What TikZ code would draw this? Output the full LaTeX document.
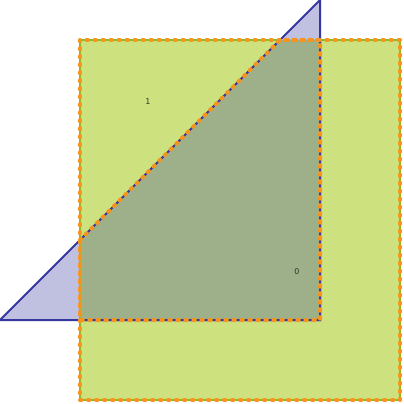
\documentclass[tikz,border=0pt]{standalone}
\usepackage{fontspec}
\setsansfont{DejaVu Sans}
\usetikzlibrary{positioning}
\definecolor{shapeGreen}{RGB}{205,226,126}
\definecolor{edgeGreen}{RGB}{130,190,40}
\definecolor{shapeBlue}{RGB}{192,192,224}
\definecolor{edgeBlue}{RGB}{55,55,160}
\definecolor{overlapFill}{RGB}{157,176,138}
\definecolor{dotOrange}{RGB}{247,148,30}

\begin{document}
\begin{tikzpicture}[x=1pt,y=-1pt,
  sq/.style={fill=shapeGreen,draw=edgeGreen,line width=2pt},
  tri/.style={fill=shapeBlue,draw=edgeBlue,line width=2pt},
  ovl/.style={fill=overlapFill},
  dots/.style={draw=dotOrange,line width=4pt,line cap=round,dash pattern=on 1.5pt off 6.5pt},
  lbl/.style={font=\sffamily\fontsize{8}{9}\selectfont,text=black!80}
]
  \useasboundingbox (0,0) rectangle (404,404);
  % square and triangle
  \draw[sq] (80,40) rectangle (400,400);
  \draw[tri] (0,320) -- (320,320) -- (320,0) -- cycle;
  % overlap region
  \fill[ovl] (80,240) -- (280,40) -- (320,40) -- (320,320) -- (80,320) -- cycle;
  \draw[edgeGreen,line width=2pt] (80,240) -- (80,320);
  \draw[edgeBlue,line width=2pt] (80,240) -- (280,40) (320,40) -- (320,320) -- (80,320);
  \draw[dots] (80,40) rectangle (400,400);
  \draw[dots] (80,240) -- (280,40) -- (320,40) -- (320,320) -- (80,320) -- cycle;

  \node[lbl] (one) at (148,102) {1};
  \node[lbl] (zero) at (297,272) {0};
\end{tikzpicture}
\end{document}
